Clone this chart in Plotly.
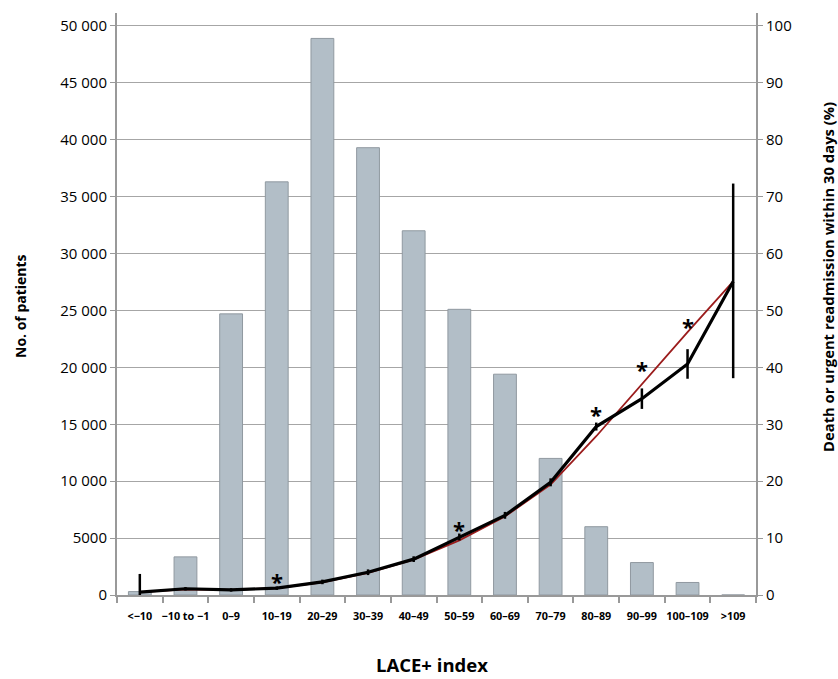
import plotly.graph_objects as go

categories = ["<−10", "−10 to −1", "0–9", "10–19", "20–29", "30–39", "40–49",
              "50–59", "60–69", "70–79", "80–89", "90–99", "100–109", ">109"]
patients = [300, 3350, 24700, 36300, 48900, 39300, 32000,
            25100, 19400, 12000, 6000, 2850, 1100, 0]
observed_pct = [0.5, 1.1, 0.9, 1.2, 2.3, 4.0, 6.3, 10.2, 14.0, 19.8, 29.6, 34.5, 40.6, 55.1]
err_plus = [3.2, 0.3, 0.3, 0.3, 0.4, 0.5, 0.5, 0.6, 0.6, 0.7, 0.7, 1.8, 2.6, 17.2]
err_minus = [0.5, 0.3, 0.3, 0.3, 0.4, 0.5, 0.5, 0.6, 0.6, 0.7, 0.7, 1.8, 2.6, 17.0]
expected_pct = [0.5, 1.0, 0.9, 1.2, 2.2, 3.9, 6.2, 9.6, 13.8, 19.4, 27.9, 37.1, 46.2, 55.1]
star_cats = ["10–19", "50–59", "80–89", "90–99", "100–109"]
star_pct = [2.8, 11.9, 32.2, 40.0, 47.7]

left_tickvals = [0, 5000, 10000, 15000, 20000, 25000, 30000, 35000, 40000, 45000, 50000]
left_ticktext = ["0", "5000", "10 000", "15 000", "20 000", "25 000", "30 000",
                 "35 000", "40 000", "45 000", "50 000"]
right_tickvals = [0, 10, 20, 30, 40, 50, 60, 70, 80, 90, 100]

FONT = "Open Sans"
GRID = "#a6a6a6"
AXIS = "#999999"

# body margin is removed by the post script, so figure pixels == page pixels
W, H = 838, 679
PL, PR, PT, PB = 117, 756, 13, 595
pw, ph = PR - PL, PB - PT


def px(sx):
    return (sx - PL) / pw


def py(sy):
    return (PB - sy) / ph


fig = go.Figure()
fig.add_trace(go.Bar(
    x=categories, y=patients, width=0.5,
    marker=dict(color="#b2bec7", line=dict(color="#9099a0", width=1)),
    yaxis="y", showlegend=False))
fig.add_trace(go.Scatter(
    x=categories, y=expected_pct, mode="lines",
    line=dict(color="#9b1c1c", width=1.8), yaxis="y2", showlegend=False))
fig.add_trace(go.Scatter(
    x=categories, y=observed_pct, mode="lines",
    line=dict(color="black", width=3.2),
    error_y=dict(type="data", array=err_plus, arrayminus=err_minus,
                 color="black", thickness=2.5, width=0),
    yaxis="y2", showlegend=False))

annotations = []
for c, v in zip(star_cats, star_pct):
    annotations.append(dict(x=c, y=v, xref="x", yref="y2", text="<b>*</b>",
                            showarrow=False, yshift=-2,
                            font=dict(family=FONT, size=22, color="black")))

annotations += [
    dict(x=px(20), y=py(306), xref="paper", yref="paper",
         xanchor="center", yanchor="middle",
         text="<b>No. of patients</b>", textangle=-90, showarrow=False,
         font=dict(family=FONT, size=14, color="black")),
    dict(x=px(828), y=py(277), xref="paper", yref="paper",
         xanchor="center", yanchor="middle",
         text="<b>Death or urgent readmission within 30 days (%)</b>", textangle=-90,
         showarrow=False, font=dict(family=FONT, size=14.8, color="black")),
    dict(x=px(432), y=py(664), xref="paper", yref="paper",
         xanchor="center", yanchor="middle",
         text="<b>LACE+ index</b>", showarrow=False,
         font=dict(family=FONT, size=18.5, color="black")),
]

fig.update_layout(
    width=W, height=H,
    margin=dict(l=PL, r=W - PR, t=PT, b=H - PB),
    paper_bgcolor="white", plot_bgcolor="white",
    font=dict(family=FONT, color="black"),
    xaxis=dict(type="category", tickson="boundaries", ticks="outside",
               ticklen=6, tickcolor=AXIS, tickwidth=1.5, tickangle=0,
               ticklabelstandoff=10,
               showline=True, linecolor=AXIS, linewidth=2,
               showgrid=False,
               tickfont=dict(family=FONT, size=10.8, color="black", weight="bold"),
               range=[-0.5, 13.5]),
    yaxis=dict(range=[0, 51134], tickvals=left_tickvals, ticktext=left_ticktext,
               ticks="outside", ticklen=5, tickcolor=AXIS,
               showline=True, linecolor=AXIS, linewidth=2,
               showgrid=True, gridcolor=GRID, gridwidth=1, zeroline=False,
               tickfont=dict(family=FONT, size=15, color="black")),
    yaxis2=dict(range=[0, 102.27], tickvals=right_tickvals,
                overlaying="y", side="right",
                ticks="outside", ticklen=5, tickcolor=AXIS,
                showline=True, linecolor=AXIS, linewidth=2,
                showgrid=False, zeroline=False,
                tickfont=dict(family=FONT, size=15, color="black")),
    annotations=annotations,
)

fig.write_html("out.html",
               config={"displayModeBar": False},
               post_script="document.body.style.margin='0';"
                           "document.body.style.overflow='hidden';")
